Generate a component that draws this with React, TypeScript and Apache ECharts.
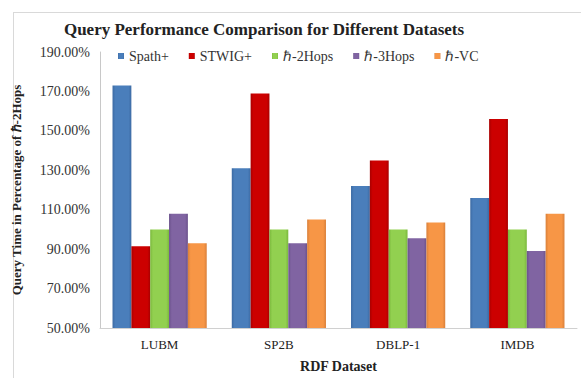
import React, { useEffect, useRef } from "react";
import * as echarts from "echarts";

const categories = ["LUBM", "SP2B", "DBLP-1", "IMDB"];
const seriesNames = ["Spath+", "STWIG+", "ℏ-2Hops", "ℏ-3Hops", "ℏ-VC"];
const spathValues = [173, 131, 122, 116];
const stwigValues = [91.5, 169, 135, 156];
const hop2Values = [100, 100, 100, 100];
const hop3Values = [108, 93, 95.5, 89];
const vcValues = [93, 105, 103.5, 108];
const seriesValues = [spathValues, stwigValues, hop2Values, hop3Values, vcValues];
const colors = ["#4a7ebb", "#cc0000", "#92d050", "#8064a2", "#f79646"];
const darkColors = ["#3c6aa3", "#a80000", "#7ab83c", "#6b528c", "#d9803a"];

const FONT = "Liberation Serif";

export default function App() {
  const ref = useRef<HTMLDivElement>(null);
  useEffect(() => {
    if (!ref.current) return;
    const chart = echarts.init(ref.current, null, { renderer: "svg" });
    chart.setOption({
      animation: false,
      backgroundColor: "#ffffff",
      title: {
        text: "Query Performance Comparison for Different Datasets",
        left: 259,
        top: 16,
        textAlign: "center",
        textStyle: { fontFamily: FONT, fontSize: 17, fontWeight: "bold", color: "#222" },
      },
      legend: {
        top: 44,
        left: 113,
        itemWidth: 6,
        itemHeight: 6,
        itemGap: 20,
        icon: "rect",
        textStyle: { fontFamily: FONT, fontSize: 14, color: "#333" },
        data: seriesNames,
      },
      graphic: [
        { type: "line", shape: { x1: 13.5, y1: 12, x2: 13.5, y2: 378 }, style: { stroke: "#d9d9d9", lineWidth: 1 } },
        { type: "line", shape: { x1: 13, y1: 12.5, x2: 581, y2: 12.5 }, style: { stroke: "#d9d9d9", lineWidth: 1 } },
      ],
      grid: { left: 100, right: 4, top: 52, bottom: 49 },
      xAxis: {
        type: "category",
        data: categories,
        name: "RDF Dataset",
        nameLocation: "middle",
        nameGap: 31,
        nameTextStyle: { fontFamily: FONT, fontSize: 14, fontWeight: "bold", color: "#222" },
        axisLine: { lineStyle: { color: "#d0d0d0" } },
        axisTick: { show: false },
        axisLabel: { fontFamily: FONT, fontSize: 13, color: "#222", margin: 10 },
      },
      yAxis: {
        type: "value",
        min: 50,
        max: 190,
        interval: 20,
        name: "Query Time in Percentage of ℏ-2Hops",
        nameLocation: "middle",
        nameGap: 77,
        nameTextStyle: { fontFamily: FONT, fontSize: 13, fontWeight: "bold", color: "#222" },
        axisLine: { show: true, lineStyle: { color: "#c8c8c8" } },
        axisTick: { show: false },
        splitLine: { show: false },
        axisLabel: {
          fontFamily: FONT,
          fontSize: 14,
          color: "#333",
          margin: 10,
          formatter: (v: number) => v.toFixed(2) + "%",
        },
      },
      series: seriesNames.map((name, i) => ({
        name,
        type: "bar",
        data: seriesValues[i],
        barGap: "0%",
        barCategoryGap: "21%",
        itemStyle: {
          color: new echarts.graphic.LinearGradient(0, 0, 1, 0, [
            { offset: 0, color: darkColors[i] },
            { offset: 0.15, color: colors[i] },
            { offset: 0.85, color: colors[i] },
            { offset: 1, color: darkColors[i] },
          ]),
        },
      })),
    });
    return () => chart.dispose();
  }, []);
  return <div ref={ref} style={{ position: "fixed", left: 0, top: 0, width: 581, height: 378 }} />;
}
